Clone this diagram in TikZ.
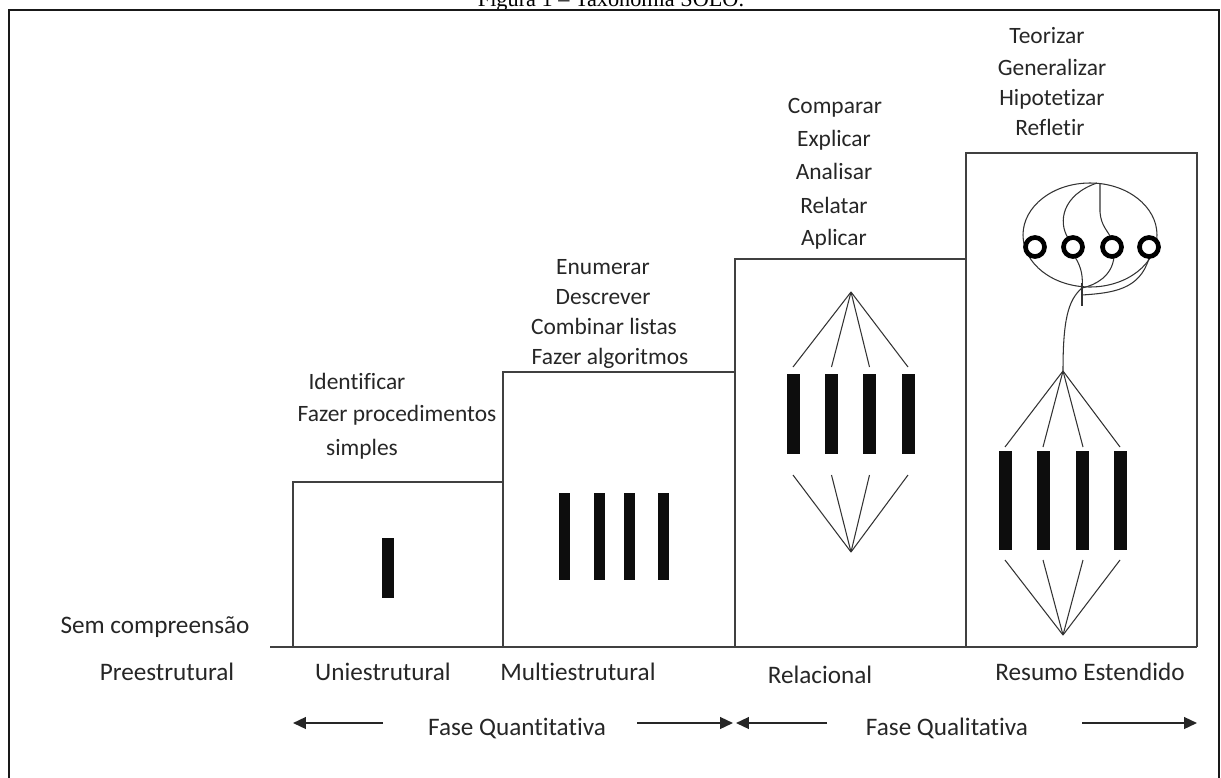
\documentclass[tikz,border=0pt]{standalone}
\usepackage{fontspec}
\setmainfont[Ligatures={NoCommon}]{Carlito}
\newfontfamily\capfont{Liberation Serif}
\usetikzlibrary{arrows.meta}
\begin{document}
\begin{tikzpicture}[x=0.03cm,y=-0.03cm,
  frameline/.style={line width=1.7pt,draw=black!90},
  boxline/.style={line width=1.1pt,draw=black!75},
  thin/.style={line width=0.9pt,draw=black!80},
  bar/.style={fill=black!95,draw=none},
  ring/.style={line width=4pt,draw=black},
  lab/.style={font=\fontsize{20}{24}\selectfont,inner sep=0pt,anchor=base,text=black!85},
  blab/.style={font=\fontsize{21.5}{25}\selectfont,inner sep=0pt,anchor=base,text=black!85},
  phase/.style={line width=1.6pt,draw=black!85,-{Triangle[length=11pt,width=10pt]}}]
\useasboundingbox (0,0) rectangle (1221,778);
\clip (0,0) rectangle (1221,778);
% caption (cut at top)
\node[font=\capfont\fontsize{19}{21}\selectfont,inner sep=0pt,anchor=base] (cap) at (611,6) {Figura 1 – Taxonomia SOLO.};
% outer frame
\draw[frameline] (9,790) -- (9,10) -- (1219,10) -- (1219,790);
% steps
\draw[boxline] (270,647) -- (1197,647);
\draw[boxline] (293,647) -- (293,482) -- (503,482);
\draw[boxline] (503,647) -- (503,372) -- (735,372);
\draw[boxline] (735,647) -- (735,259) -- (966,259);
\draw[boxline] (966,647) -- (966,153) -- (1197,153) -- (1197,647);
% Uniestrutural bar
\fill[bar] (382,538) rectangle (394,598);
% Multiestrutural bars
\foreach \cx in {564,599.5,629.5,663.5}
  \fill[bar] (\cx-5.5,493) rectangle (\cx+5.5,580);
% Relacional
\coordinate (rt) at (851,292);
\coordinate (rb) at (851,552);
\foreach \cx in {793,831.5,869.5,908}{
  \fill[bar] (\cx-6.5,374) rectangle (\cx+6.5,454);
  \draw[thin] (rt) -- (\cx,367);
  \draw[thin] (rb) -- (\cx,475);
}
% Resumo Estendido
\coordinate (et) at (1063,371);
\coordinate (eb) at (1063,635);
\foreach \cx/\lx in {1005.5/1005,1043/1043,1082/1083,1120.5/1120}{
  \fill[bar] (\cx-6.5,451) rectangle (\cx+6.5,550);
  \draw[thin] (et) -- (\lx,447);
  \draw[thin] (eb) -- (\lx,560);
}
% ellipse with rings
\coordinate (ec) at (1090,235);
\draw[thin] (ec) ellipse [x radius=67, y radius=52];
\draw[thin] (1097,183) .. controls (1062,195) and (1058,222) .. (1068,238);
\draw[thin] (1100,183) -- (1100,212) .. controls (1101,226) and (1108,231) .. (1111,238);
\draw[thin] (1075,257) .. controls (1082,268) and (1083,278) .. (1082,288);
\draw[thin] (1114,257) .. controls (1112,276) and (1096,285) .. (1082,288);
\draw[thin] (1149,258) .. controls (1140,290) and (1112,293) .. (1082,295);
\draw[thin] (1082,283) -- (1082,306);
\draw[thin] (1082,288) .. controls (1068,300) and (1063,320) .. (et);
\foreach \cx in {1035,1073,1112,1149}
  \draw[ring,fill=white] (\cx,247) circle [radius=9.5];
% texts above steps
\node[lab] (t1) at (357,389) {Identificar};
\node[lab] (t2) at (397,421) {Fazer procedimentos};
\node[lab] (t3) at (362,455) {simples};
\node[lab] (m1) at (603,274) {Enumerar};
\node[lab] (m2) at (603,304) {Descrever};
\node[lab] (m3) at (604,334) {Combinar listas};
\node[lab] (m4) at (610,364) {Fazer algoritmos};
\node[lab] (r1) at (835,113) {Comparar};
\node[lab] (r2) at (834,146) {Explicar};
\node[lab] (r3) at (834,179) {Analisar};
\node[lab] (r4) at (834,213) {Relatar};
\node[lab] (r5) at (834,245) {Aplicar};
\node[lab] (e1) at (1047,43) {Teorizar};
\node[lab] (e2) at (1052,75) {Generalizar};
\node[lab] (e3) at (1052,105) {Hipotetizar};
\node[lab] (e4) at (1050,135) {Refletir};
\node[blab] (sc) at (155,633) {Sem compreensão};
% level names
\node[blab] (l0) at (167,680) {Preestrutural};
\node[blab] (l1) at (383,680) {Uniestrutural};
\node[blab] (l2) at (578,680) {Multiestrutural};
\node[blab] (l3) at (820,683) {Relacional};
\node[blab] (l4) at (1090,680) {Resumo Estendido};
% phases
\node[blab] (fq) at (517,735) {Fase Quantitativa};
\node[blab] (fl) at (947,735) {Fase Qualitativa};
\coordinate (a1s) at (383,723); \coordinate (a1e) at (293,723);
\coordinate (a2s) at (637,723); \coordinate (a2e) at (733,723);
\coordinate (a3s) at (827,723); \coordinate (a3e) at (736,723);
\coordinate (a4s) at (1082,723); \coordinate (a4e) at (1197,723);
\draw[phase] (a1s) -- (a1e);
\draw[phase] (a2s) -- (a2e);
\draw[phase] (a3s) -- (a3e);
\draw[phase] (a4s) -- (a4e);
\end{tikzpicture}
\end{document}
